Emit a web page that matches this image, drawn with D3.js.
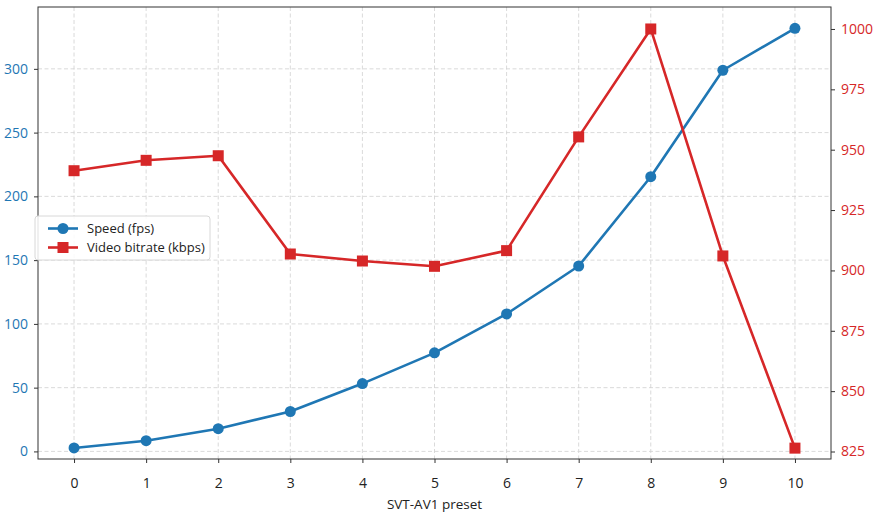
<!DOCTYPE html>
<html><head><meta charset="utf-8">
<script src="https://cdn.jsdelivr.net/npm/d3@7"></script>
<style>body{margin:0;background:#fff;}svg{display:block;font-family:"Open Sans",sans-serif;}</style>
</head><body><svg id="c" width="881" height="519"></svg>
<script>
const presets = [0,1,2,3,4,5,6,7,8,9,10];
const speedFps = [2.7,8.4,17.8,31.3,53.2,77.3,107.8,145.4,215.4,298.9,331.8];
const bitrateKbps = [941.3,945.6,947.5,906.8,903.9,901.7,908.2,955.3,1000,906,826.4];
const leftTicks = [0,50,100,150,200,250,300];
const rightTicks = [825,850,875,900,925,950,975,1000];
const seriesNames = ["Speed (fps)","Video bitrate (kbps)"];
const xLabel = "SVT-AV1 preset";

const blue = "#1f77b4", red = "#d62728";
const L = 38, R = 831, T = 7, B = 459;
const svg = d3.select("#c");
const x = d3.scaleLinear().domain([-0.5,10.5]).range([L,R]);
const yL = d3.scaleLinear().domain([-5.95,348.5]).range([B,T]);
const yR = d3.scaleLinear().domain([821.9,1009.1]).range([B,T]);

// grid
const g = svg.append("g");
g.selectAll(".gx").data(presets).join("line")
  .attr("x1",d=>x(d)).attr("x2",d=>x(d)).attr("y1",T).attr("y2",B)
  .attr("stroke","#d0d0d0").attr("stroke-width",0.8).attr("stroke-dasharray","4,2.5");
g.selectAll(".gy").data(leftTicks).join("line")
  .attr("x1",L).attr("x2",R).attr("y1",d=>yL(d)).attr("y2",d=>yL(d))
  .attr("stroke","#d0d0d0").attr("stroke-width",0.8).attr("stroke-dasharray","4,2.5");

// axes
const fs = "14px";
const ax = svg.append("g").attr("transform",`translate(0,${B})`)
  .call(d3.axisBottom(x).tickValues(presets).tickSize(4).tickPadding(15).tickFormat(d3.format("d")));
const ay = svg.append("g").attr("transform",`translate(${L},0)`)
  .call(d3.axisLeft(yL).tickValues(leftTicks).tickSize(4).tickPadding(6).tickFormat(d3.format("d")));
const ar = svg.append("g").attr("transform",`translate(${R},0)`)
  .call(d3.axisRight(yR).tickValues(rightTicks).tickSize(4).tickPadding(6).tickFormat(d3.format("d")));
[ax,ay,ar].forEach(a=>{a.select(".domain").remove();a.selectAll("line").attr("stroke","#333");a.selectAll("text").style("font-size",fs).style("font-family","'Open Sans',sans-serif");});
ax.selectAll("text").attr("fill","#222");
ay.selectAll("text").attr("fill",blue);
ar.selectAll("text").attr("fill",red);

// frame
svg.append("rect").attr("x",L).attr("y",T).attr("width",R-L).attr("height",B-T)
  .attr("fill","none").attr("stroke","#333").attr("stroke-width",1);

// x label
svg.append("text").attr("x",(L+R)/2).attr("y",509).attr("text-anchor","middle")
  .style("font-size","13.5px").attr("fill","#222").text(xLabel);

// speed line
const lineL = d3.line().x((d,i)=>x(presets[i])).y(d=>yL(d));
svg.append("path").datum(speedFps).attr("d",lineL).attr("fill","none").attr("stroke",blue).attr("stroke-width",2.6).attr("stroke-linejoin","round");
svg.selectAll(".c").data(speedFps).join("circle").attr("cx",(d,i)=>x(presets[i])).attr("cy",d=>yL(d)).attr("r",5.5).attr("fill",blue);

// bitrate line
const lineR = d3.line().x((d,i)=>x(presets[i])).y(d=>yR(d));
svg.append("path").datum(bitrateKbps).attr("d",lineR).attr("fill","none").attr("stroke",red).attr("stroke-width",2.6).attr("stroke-linejoin","round");
const s = 11;
svg.selectAll(".s").data(bitrateKbps).join("rect").attr("x",(d,i)=>x(presets[i])-s/2).attr("y",d=>yR(d)-s/2).attr("width",s).attr("height",s).attr("fill",red);

// legend
const lg = svg.append("g");
lg.append("rect").attr("x",35).attr("y",216).attr("width",175).attr("height",44).attr("rx",3)
  .attr("fill","rgba(255,255,255,0.85)").attr("stroke","#d8d8d8");
const rows = [{name:seriesNames[0],c:blue,m:"circle",y:228.5},{name:seriesNames[1],c:red,m:"square",y:247.5}];
rows.forEach(r=>{
  lg.append("line").attr("x1",48).attr("x2",78).attr("y1",r.y).attr("y2",r.y).attr("stroke",r.c).attr("stroke-width",2.6);
  if(r.m==="circle") lg.append("circle").attr("cx",63).attr("cy",r.y).attr("r",5.5).attr("fill",r.c);
  else lg.append("rect").attr("x",63-s/2).attr("y",r.y-s/2).attr("width",s).attr("height",s).attr("fill",r.c);
  lg.append("text").attr("x",87).attr("y",r.y).attr("dy","0.35em").style("font-size","13px").attr("fill","#222").text(r.name);
});
</script></body></html>
